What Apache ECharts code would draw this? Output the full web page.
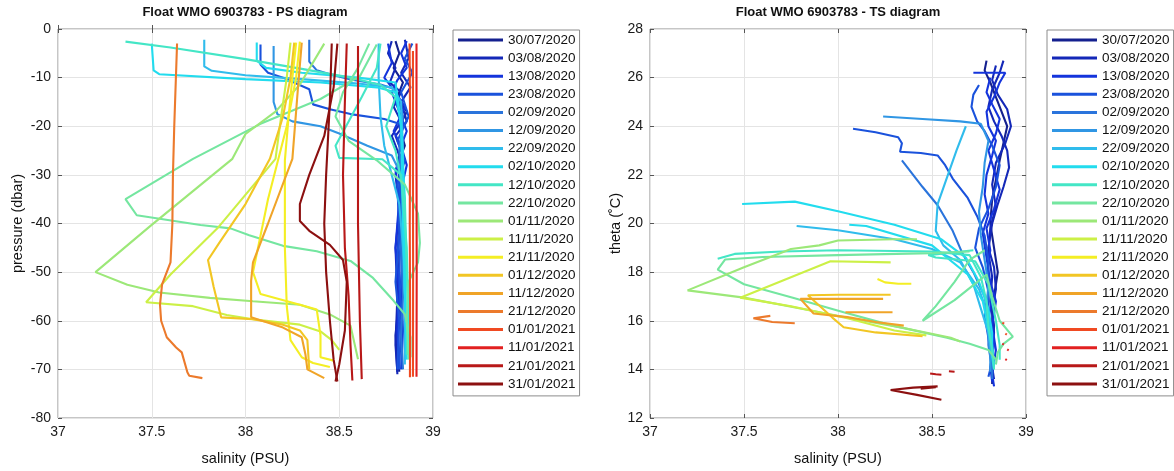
<!DOCTYPE html>
<html><head><meta charset="utf-8">
<script src="https://cdn.jsdelivr.net/npm/echarts@6/dist/echarts.min.js"></script>
<style>html,body{margin:0;padding:0;background:#fff}#c{width:1174px;height:471px}</style>
</head><body><div id="c"></div><script>
// ---- legend / categories ----
const dates = ['30/07/2020','03/08/2020','13/08/2020','23/08/2020','02/09/2020','12/09/2020','22/09/2020','02/10/2020','12/10/2020','22/10/2020','01/11/2020','11/11/2020','21/11/2020','01/12/2020','11/12/2020','21/12/2020','01/01/2021','11/01/2021','21/01/2021','31/01/2021'];
const colors = ['#14208f','#1428b8','#1434dc','#1a52dc','#2a74dc','#3096e4','#30bcec','#22dcee','#44e6c6','#74e6a0','#9ce878','#ccf046','#f4ee24','#f2c624','#f0a428','#ec7a2c','#f04a22','#e22020','#b81818','#8c1010'];
const salTicks = [37, 37.5, 38, 38.5, 39];
const presTicks = [-80, -70, -60, -50, -40, -30, -20, -10, 0];
const thetaTicks = [12, 14, 16, 18, 20, 22, 24, 26, 28];

// ---- PS diagram profiles: [salinity, pressure] ----
const ps_3007 = [[38.80,-2.5],[38.82,-5],[38.79,-8],[38.84,-11],[38.81,-14],[38.86,-17],[38.82,-20],[38.85,-24],[38.81,-28],[38.83,-33],[38.82,-40],[38.81,-48],[38.82,-56],[38.81,-64],[38.82,-70.5]];
const ps_0308a = [[38.85,-2.2],[38.87,-6],[38.83,-9],[38.88,-12],[38.83,-15],[38.86,-19],[38.80,-22],[38.84,-26],[38.82,-31],[38.83,-38],[38.81,-46],[38.82,-55],[38.80,-63],[38.81,-71]];
const ps_0308b = [[38.78,-2.5],[38.76,-5],[38.8,-8],[38.77,-11],[38.83,-13],[38.79,-16],[38.83,-19],[38.78,-22],[38.82,-26],[38.8,-30],[38.82,-37],[38.8,-45],[38.81,-55],[38.8,-65],[38.81,-70.5]];
const ps_1308a = [[38.76,-3],[38.78,-7],[38.74,-10],[38.80,-13],[38.85,-16],[38.79,-21],[38.84,-25],[38.80,-29],[38.82,-35],[38.80,-45],[38.82,-54],[38.81,-62],[38.82,-70]];
const ps_1308b = [[38.86,-2.5],[38.83,-5],[38.86,-8],[38.81,-10.5],[38.78,-13],[38.82,-17],[38.86,-21],[38.83,-24],[38.86,-28],[38.83,-33],[38.84,-42],[38.83,-52],[38.84,-62],[38.83,-70]];
const ps_2308a = [[38.89,-3],[38.85,-6],[38.89,-9],[38.83,-13],[38.87,-18],[38.81,-23],[38.85,-27],[38.81,-32],[38.82,-42],[38.80,-52],[38.82,-60],[38.81,-70]];
const ps_2308b = [[38.08,-3.2],[38.08,-7.3],[38.12,-9],[38.2,-10],[38.34,-12.4],[38.36,-15.5],[38.45,-16.5],[38.56,-17.5],[38.74,-18.5],[38.82,-19.5],[38.84,-24],[38.82,-30],[38.83,-40],[38.82,-50],[38.83,-60],[38.82,-70]];
const ps_0209 = [[38.34,-2.2],[38.34,-6.7],[38.38,-8.5],[38.45,-9.3],[38.56,-10.4],[38.72,-11.4],[38.8,-12.4],[38.84,-18],[38.82,-25],[38.84,-35],[38.83,-45],[38.84,-55],[38.83,-63],[38.84,-70]];
const ps_1209 = [[38.15,-3.5],[38.15,-15],[38.17,-17.5],[38.25,-19],[38.4,-20],[38.5,-21.5],[38.65,-24],[38.78,-26],[38.83,-30],[38.85,-45],[38.85,-68]];
const ps_2209a = [[37.78,-2.2],[37.78,-7.7],[37.82,-8.6],[38.0,-9.5],[38.3,-10.3],[38.6,-11.2],[38.78,-12],[38.83,-15],[38.84,-25],[38.84,-40],[38.85,-55],[38.85,-69]];
const ps_2209b = [[38.71,-3],[38.71,-10],[38.72,-18],[38.74,-24],[38.78,-30],[38.82,-36],[38.84,-45],[38.85,-55],[38.86,-67]];
const ps_0210a = [[37.5,-3],[37.51,-8.5],[37.54,-9.3],[38.0,-10.3],[38.4,-11],[38.7,-12],[38.8,-13],[38.83,-20],[38.85,-35],[38.85,-50],[38.86,-67]];
const ps_0210b = [[38.06,-2.8],[38.06,-6.5],[38.11,-8],[38.3,-9],[38.6,-10],[38.8,-11],[38.83,-20],[38.84,-40],[38.86,-68]];
const ps_1210a = [[37.36,-2.6],[37.6,-3.8],[38.0,-6.2],[38.3,-8.2],[38.56,-10],[38.72,-11.5],[38.8,-14],[38.75,-20],[38.8,-25],[38.85,-35],[38.86,-50],[38.87,-66]];
const ps_1210b = [[38.72,-3],[38.7,-8],[38.62,-14],[38.55,-19],[38.48,-24],[38.5,-26.5],[38.73,-26.8],[38.83,-30],[38.86,-45],[38.87,-60],[38.86,-67]];
const ps_2210a = [[38.7,-3.2],[38.61,-9.7],[38.4,-14.4],[38.08,-19.5],[37.72,-26.7],[37.36,-35],[37.42,-38.3],[37.76,-40.3],[37.92,-41],[38.02,-42.4],[38.2,-44.6],[38.38,-45.7],[38.56,-47.7],[38.68,-51.2],[38.79,-55.9],[38.85,-58.7],[38.88,-63.4],[38.88,-67.5]];
const ps_2210b = [[38.66,-3],[38.6,-8],[38.52,-13],[38.48,-18],[38.55,-23],[38.7,-27],[38.85,-32],[38.92,-38],[38.93,-44],[38.92,-48],[38.87,-52],[38.86,-60],[38.87,-68]];
const ps_0111 = [[38.42,-3],[38.29,-11.4],[38.16,-17],[38.0,-21.6],[37.93,-26.7],[37.49,-40.6],[37.2,-50],[37.37,-52.6],[37.54,-54.2],[37.81,-55.3],[38.04,-56],[38.29,-56.7],[38.45,-58.7],[38.56,-61],[38.6,-67.9]];
const ps_1111 = [[38.24,-2.8],[38.22,-10],[38.19,-18],[38.16,-26.7],[37.85,-41],[37.6,-50.5],[37.47,-56.2],[37.72,-57],[37.9,-58.8],[38.04,-59.7],[38.29,-60.8],[38.4,-62.2],[38.46,-64],[38.5,-66]];
const ps_2111a = [[38.27,-2.8],[38.25,-10],[38.23,-18],[38.21,-27],[38.21,-45],[38.22,-57],[38.24,-64],[38.3,-67.5],[38.36,-68.7],[38.45,-69.5]];
const ps_2111b = [[38.29,-2.6],[38.27,-10],[38.22,-20],[38.12,-35],[38.04,-50],[38.08,-54.5],[38.29,-56.7],[38.38,-57.7],[38.4,-63],[38.4,-67.5],[38.47,-68.2]];
const ps_0112 = [[38.26,-2.8],[38.24,-10],[38.2,-18],[38.13,-26.7],[38.0,-36],[37.86,-44],[37.8,-47.5],[37.83,-53],[37.87,-59.3],[38.04,-59.7],[38.2,-60.8],[38.29,-62],[38.33,-64],[38.34,-70]];
const ps_1112 = [[38.3,-2.8],[38.28,-12],[38.25,-26.7],[38.12,-40],[38.04,-48],[38.03,-51.8],[38.03,-59.3],[38.2,-61.4],[38.3,-63.4],[38.32,-67],[38.33,-70],[38.42,-71.8]];
const ps_2112 = [[37.635,-3],[37.62,-20],[37.613,-30],[37.61,-40],[37.6,-48],[37.555,-52.5],[37.544,-56.7],[37.55,-60],[37.58,-63.4],[37.63,-65.5],[37.66,-66.5],[37.69,-70.6],[37.7,-71.3],[37.77,-71.8]];
const ps_0101a = [[38.875,-3],[38.878,-20],[38.876,-40],[38.878,-60],[38.877,-71.6]];
const ps_0101b = [[38.893,-4.5],[38.893,-30],[38.894,-50],[38.893,-71.5]];
const ps_1101 = [[38.912,-3],[38.912,-25],[38.913,-50],[38.912,-71.5]];
const ps_2101a = [[38.54,-3],[38.53,-15],[38.52,-30],[38.53,-45],[38.55,-55],[38.56,-65],[38.57,-72.3]];
const ps_2101b = [[38.6,-3.5],[38.6,-20],[38.6,-40],[38.61,-60],[38.62,-72]];
const ps_3101a = [[38.49,-3],[38.47,-12],[38.42,-22],[38.34,-30],[38.29,-36],[38.29,-39.5],[38.34,-41.5],[38.45,-44.4],[38.52,-47.5],[38.54,-52],[38.53,-62],[38.5,-69],[38.48,-72.5]];
const ps_3101b = [[38.46,-3],[38.45,-15],[38.43,-30],[38.42,-40],[38.43,-50],[38.45,-60],[38.47,-68],[38.49,-72.5]];

// ---- TS diagram profiles: [salinity, theta] ----
const ts_3007 = [[38.79,26.7],[38.78,26.3],[38.81,25.8],[38.84,25.2],[38.87,24.6],[38.9,24],[38.88,23.3],[38.86,22.6],[38.84,21.8],[38.82,21],[38.81,20],[38.83,19],[38.85,18],[38.83,17],[38.82,16],[38.81,15],[38.82,14],[38.82,13.4]];
const ts_0308a = [[38.88,26.7],[38.86,26.2],[38.82,25.5],[38.8,24.8],[38.83,24.2],[38.87,23.6],[38.9,23],[38.91,22.3],[38.88,21.5],[38.85,20.8],[38.82,20],[38.8,19],[38.83,18.2],[38.84,17.3],[38.82,16.4],[38.83,15.5],[38.81,14.6],[38.83,13.6]];
const ts_0308b = [[38.84,26.5],[38.82,25.9],[38.85,25.3],[38.9,24.7],[38.92,24.0],[38.89,23.3],[38.84,22.5],[38.82,21.6],[38.84,20.7],[38.81,19.8],[38.8,18.8],[38.82,17.8],[38.81,16.8],[38.83,15.8],[38.82,14.8],[38.82,13.9]];
const ts_1308a = [[38.72,26.2],[38.89,26.2],[38.86,25.8],[38.83,25.2],[38.79,24.6],[38.8,24],[38.84,23.4],[38.82,22.8],[38.79,22],[38.78,21.2],[38.8,20.4],[38.77,19.6],[38.79,18.6],[38.81,17.6],[38.84,16.8],[38.82,15.8],[38.84,14.8],[38.82,13.8],[38.83,13.3]];
const ts_1308b = [[38.81,26.0],[38.79,25.4],[38.82,24.9],[38.86,24.3],[38.84,23.7],[38.8,23.0],[38.83,22.2],[38.86,21.4],[38.83,20.6],[38.79,19.8],[38.81,18.9],[38.79,17.9],[38.82,17.0],[38.8,16.0],[38.83,15.0],[38.81,14.1],[38.82,13.5]];
const ts_2308a = [[38.75,25.7],[38.72,25.3],[38.71,24.8],[38.74,24.2],[38.78,23.8],[38.82,23.2],[38.86,22.4],[38.84,21.5],[38.8,20.6],[38.75,19.8],[38.73,19],[38.77,18.2],[38.8,17.2],[38.78,16.2],[38.8,15.3],[38.82,14.3],[38.8,13.7]];
const ts_2308b = [[38.08,23.9],[38.2,23.75],[38.32,23.55],[38.34,23.3],[38.33,22.95],[38.44,22.9],[38.53,22.8],[38.57,22.4],[38.61,21.85],[38.69,21.05],[38.74,20.3],[38.78,19.5],[38.8,18.5],[38.8,17.5],[38.8,16.5],[38.81,15.5],[38.82,14.5],[38.82,13.8]];
const ts_0209 = [[38.34,22.6],[38.45,21.5],[38.53,20.75],[38.61,19.7],[38.66,18.8],[38.72,18.0],[38.78,17.0],[38.8,16.0],[38.8,15.0],[38.82,14.0],[38.82,13.6]];
const ts_1209 = [[38.24,24.4],[38.45,24.3],[38.65,24.2],[38.76,24.1],[38.8,23.4],[38.78,22.5],[38.77,21.5],[38.75,20.5],[38.76,19.5],[38.78,18.5],[38.8,17.5],[38.79,16.5],[38.8,15.5],[38.81,14.5],[38.81,13.9]];
const ts_2209a = [[37.78,19.9],[38.0,19.72],[38.3,19.35],[38.5,18.95],[38.65,18.4],[38.75,17.3],[38.8,16.2],[38.82,15],[38.83,14.2]];
const ts_2209b = [[38.68,24.0],[38.63,23.0],[38.58,21.9],[38.53,20.8],[38.52,19.7],[38.56,19.1],[38.65,18.5],[38.72,17.5],[38.76,16.5],[38.8,15.5],[38.82,14.5]];
const ts_0210a = [[37.49,20.8],[37.77,20.9],[38.0,20.5],[38.3,19.95],[38.55,19.35],[38.68,18.6],[38.75,17.6],[38.8,16.5],[38.82,15.5],[38.82,14.5],[38.83,14.0]];
const ts_0210b = [[38.06,19.95],[38.15,19.9],[38.5,19.1],[38.69,17.9],[38.77,16.8],[38.82,14.9],[38.83,14.1]];
const ts_1210a = [[37.36,18.55],[37.45,18.75],[37.7,18.85],[38.0,18.9],[38.5,18.85],[38.7,18.7],[38.76,17.8],[38.79,16.8],[38.8,15.8],[38.82,14.8],[38.83,14.0]];
const ts_1210b = [[38.72,18.9],[38.6,18.8],[38.48,18.7],[38.52,18.6],[38.73,18.45],[38.8,17.5],[38.84,16],[38.86,15],[38.86,14.4]];
const ts_2210a = [[38.7,18.85],[38.5,18.78],[38.0,18.7],[37.6,18.62],[37.4,18.52],[37.36,18.1],[37.5,17.5],[37.76,16.95],[38.03,16.35],[38.29,15.8],[38.58,15.3],[38.7,15.05],[38.8,14.8],[38.84,14.4]];
const ts_2210b = [[38.78,18.9],[38.7,18.5],[38.62,17.6],[38.52,16.6],[38.45,16.0],[38.62,16.85],[38.79,17.9],[38.82,17.0],[38.86,16.0],[38.93,15.35],[38.88,15.05],[38.85,14.7],[38.84,14.2]];
const ts_0111 = [[38.42,19.35],[38.3,19.35],[38.0,19.3],[37.9,19.1],[37.75,18.95],[37.5,18.2],[37.2,17.25],[37.5,16.95],[37.8,16.5],[38.1,16.05],[38.35,15.7],[38.6,15.3],[38.65,15.15]];
const ts_1111 = [[38.28,18.4],[37.96,18.45],[37.72,17.7],[37.48,16.95],[37.75,16.6],[38.05,16.1],[38.3,15.6],[38.47,15.4]];
const ts_2111 = [[38.21,17.72],[38.25,17.58],[38.32,17.52],[38.39,17.52]];
const ts_0112 = [[38.28,17.07],[38.0,17.07],[37.84,17.05],[37.97,16.13],[38.03,15.73],[38.2,15.52],[38.45,15.36]];
const ts_1112a = [[38.24,16.9],[38.0,16.9],[37.8,16.9],[37.87,16.3],[38.05,16.15],[38.2,15.95],[38.35,15.8]];
const ts_1112b = [[38.04,16.35],[38.29,16.35]];
const ts_2112 = [[37.64,16.2],[37.55,16.1],[37.65,15.95],[37.77,15.9]];
const ts_0101a = [[38.874,15.92],[38.884,15.88]];
const ts_0101b = [[38.89,15.47],[38.898,15.43]];
const ts_1101a = [[38.874,15.06],[38.882,15.02]];
const ts_1101b = [[38.9,14.82],[38.908,14.78]];
const ts_1101c = [[38.89,14.42],[38.898,14.38]];
const ts_2101a = [[38.49,13.83],[38.52,13.8],[38.55,13.78]];
const ts_2101b = [[38.59,13.92],[38.62,13.9]];
const ts_3101a = [[38.53,13.3],[38.4,13.25],[38.28,13.15],[38.42,12.95],[38.55,12.75]];
const ts_3101b = [[38.44,13.2],[38.52,13.27]];

// which profile belongs to which date (index into dates)
const psLines = [[0,ps_3007],[1,ps_0308a],[1,ps_0308b],[2,ps_1308a],[2,ps_1308b],[3,ps_2308a],[3,ps_2308b],[4,ps_0209],[5,ps_1209],[6,ps_2209a],[6,ps_2209b],[7,ps_0210a],[7,ps_0210b],[8,ps_1210a],[8,ps_1210b],[9,ps_2210a],[9,ps_2210b],[10,ps_0111],[11,ps_1111],[12,ps_2111a],[12,ps_2111b],[13,ps_0112],[14,ps_1112],[15,ps_2112],[16,ps_0101a],[16,ps_0101b],[17,ps_1101],[18,ps_2101a],[18,ps_2101b],[19,ps_3101a],[19,ps_3101b]];
const tsLines = [[0,ts_3007],[1,ts_0308a],[1,ts_0308b],[2,ts_1308a],[2,ts_1308b],[3,ts_2308a],[3,ts_2308b],[4,ts_0209],[5,ts_1209],[6,ts_2209a],[6,ts_2209b],[7,ts_0210a],[7,ts_0210b],[8,ts_1210a],[8,ts_1210b],[9,ts_2210a],[9,ts_2210b],[10,ts_0111],[11,ts_1111],[12,ts_2111],[13,ts_0112],[14,ts_1112a],[14,ts_1112b],[15,ts_2112],[16,ts_0101a],[16,ts_0101b],[17,ts_1101a],[17,ts_1101b],[17,ts_1101c],[18,ts_2101a],[18,ts_2101b],[19,ts_3101a],[19,ts_3101b]];

const FONT = '"Liberation Sans", Arial, Helvetica, sans-serif';
const series = [];
function addLines(list, xi, yi) {
  list.forEach(([d, pts]) => series.push({
    type: 'line', name: dates[d], xAxisIndex: xi, yAxisIndex: yi, data: pts,
    showSymbol: false, symbol: 'none', animation: false, silent: true,
    color: colors[d], lineStyle: { width: 2.1, color: colors[d] }, z: 2
  }));
}
addLines(psLines, 0, 0);
addLines(tsLines, 2, 2);

const gridLine = { show: true, lineStyle: { color: '#e4e4e4', width: 1 } };
const tick = { show: true, inside: true, length: 4, lineStyle: { color: '#555' } };
const lbl = { fontSize: 14, color: '#1a1a1a', fontFamily: FONT, margin: 7 };
function xAx(g, top) {
  return { gridIndex: g, type: 'value', min: salTicks[0], max: salTicks[salTicks.length-1], interval: 0.5,
    position: top ? 'top' : 'bottom', axisLine: { show: false }, axisTick: tick,
    axisLabel: top ? { show: false } : lbl, splitLine: top ? { show: false } : gridLine,
    name: top ? '' : 'salinity (PSU)', nameLocation: 'middle', nameGap: 33,
    nameTextStyle: { fontSize: 14.5, color: '#111', fontFamily: FONT } };
}
function yAx(g, right, ticks, name, gap) {
  return { gridIndex: g, type: 'value', min: ticks[0], max: ticks[ticks.length-1], interval: ticks[1]-ticks[0],
    position: right ? 'right' : 'left', axisLine: { show: false }, axisTick: tick,
    axisLabel: right ? { show: false } : lbl, splitLine: right ? { show: false } : gridLine,
    name: right ? '' : name, nameLocation: 'middle', nameGap: gap, nameRotate: 90,
    nameTextStyle: { fontSize: 14.5, color: '#111', fontFamily: FONT } };
}
function leg(left) {
  return { data: dates, orient: 'vertical', left: left, top: 30, icon: 'rect', itemWidth: 45, itemHeight: 3,
    itemGap: 2.1, padding: [2, 4, 4, 5], borderColor: '#8c8c8c', borderWidth: 1, backgroundColor: '#fff',
    selectedMode: false,
    textStyle: { fontSize: 13.5, lineHeight: 16, color: '#111', fontFamily: FONT } };
}

const chart = echarts.init(document.getElementById('c'), null, { renderer: 'canvas' });
chart.setOption({
  backgroundColor: '#fff',
  animation: false,
  grid: [
    { left: 58, top: 29, width: 375, height: 392, show: true, borderColor: '#8c8c8c', borderWidth: 1, backgroundColor: 'transparent' },
    { left: 650, top: 29, width: 376, height: 392, show: true, borderColor: '#8c8c8c', borderWidth: 1, backgroundColor: 'transparent' }
  ],
  xAxis: [xAx(0, false), xAx(0, true), xAx(1, false), xAx(1, true)],
  yAxis: [yAx(0, false, presTicks, 'pressure (dbar)', 33), yAx(0, true, presTicks, '', 0),
          yAx(1, false, thetaTicks, 'theta (˚C)', 25), yAx(1, true, thetaTicks, '', 0)],
  legend: [leg(453), leg(1047)],
  graphic: [
    { type: 'text', x: 245, y: 12, style: { text: 'Float WMO 6903783 - PS diagram', font: 'bold 13px ' + FONT, fill: '#111', textAlign: 'center', textVerticalAlign: 'middle' } },
    { type: 'text', x: 838, y: 12, style: { text: 'Float WMO 6903783 - TS diagram', font: 'bold 13px ' + FONT, fill: '#111', textAlign: 'center', textVerticalAlign: 'middle' } }
  ],
  series: series
});
</script></body></html>
